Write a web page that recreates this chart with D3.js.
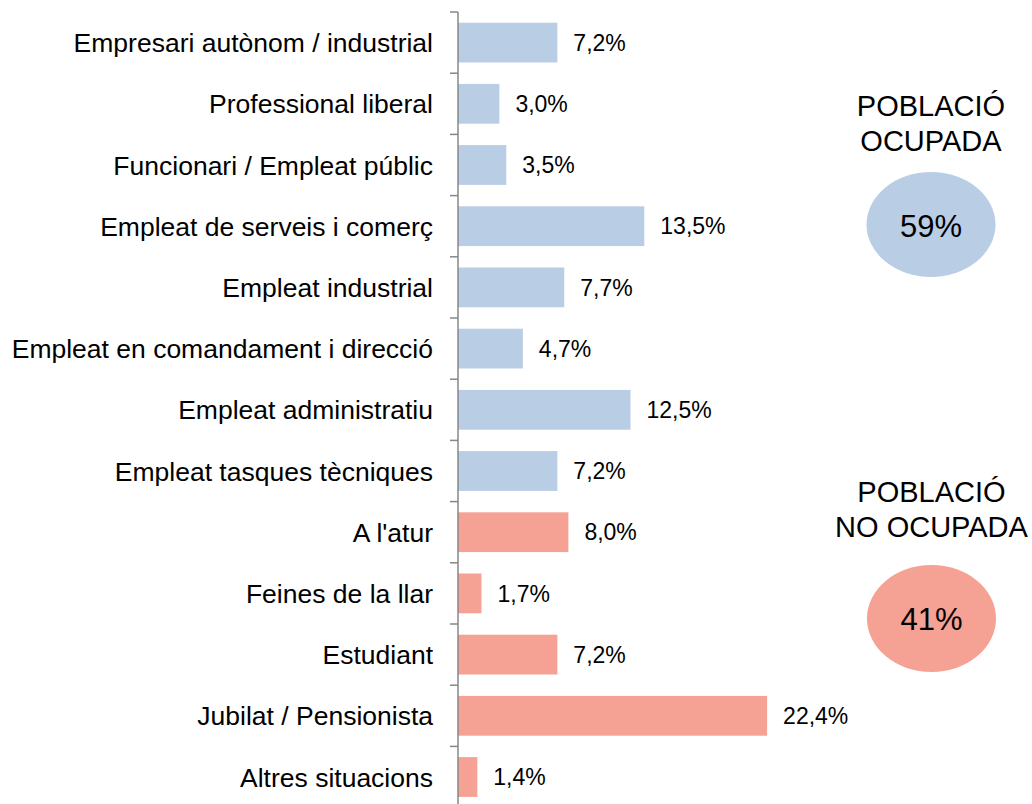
<!DOCTYPE html>
<html>
<head>
<meta charset="utf-8">
<script src="https://cdn.jsdelivr.net/npm/d3@7"></script>
<style>
  html, body { margin: 0; padding: 0; background: #fff; }
  svg { display: block; font-family: "Liberation Sans", Arial, sans-serif; }
</style>
</head>
<body>
<svg id="chart" width="1032" height="804"></svg>
<script>
const categories = [
  "Empresari autònom / industrial",
  "Professional liberal",
  "Funcionari / Empleat públic",
  "Empleat de serveis i comerç",
  "Empleat industrial",
  "Empleat en comandament i direcció",
  "Empleat administratiu",
  "Empleat tasques tècniques",
  "A l'atur",
  "Feines de la llar",
  "Estudiant",
  "Jubilat / Pensionista",
  "Altres situacions"
];
const values = [7.2, 3.0, 3.5, 13.5, 7.7, 4.7, 12.5, 7.2, 8.0, 1.7, 7.2, 22.4, 1.4];
const groups = ["ocupada","ocupada","ocupada","ocupada","ocupada","ocupada","ocupada","ocupada",
                "no","no","no","no","no"];
const groupKeys = ["ocupada", "no"];
const groupTitles = [["POBLACIÓ", "OCUPADA"], ["POBLACIÓ", "NO OCUPADA"]];
const groupTotals = ["59%", "41%"];
const groupColors = ["#B9CDE5", "#F5A193"];

const svg = d3.select("#chart");
const axisX = 458;
const x = d3.scaleLinear().domain([0, 25]).range([axisX, axisX + 25 * 13.8]);
const y = d3.scaleBand().domain(categories).range([12, 12 + 13 * 61.2]).paddingInner(0.35).paddingOuter(0.175);
const color = d3.scaleOrdinal().domain(groupKeys).range(groupColors);
const fmt = v => d3.format(".1f")(v).replace(".", ",") + "%";

const data = categories.map((c, i) => ({ cat: c, v: values[i], g: groups[i] }));

// bars
svg.append("g").selectAll("rect").data(data).join("rect")
  .attr("x", x(0))
  .attr("y", d => y(d.cat))
  .attr("width", d => x(d.v) - x(0))
  .attr("height", y.bandwidth())
  .attr("fill", d => color(d.g));

// value labels
svg.append("g").selectAll("text").data(data).join("text")
  .attr("x", d => x(d.v) + 16)
  .attr("y", d => y(d.cat) + y.bandwidth() / 2)
  .attr("dy", "0.36em")
  .attr("font-size", 23)
  .attr("fill", "#000")
  .text(d => fmt(d.v));

// axis
const step = y.step();
const boundaries = d3.range(categories.length + 1).map(i => 12 + i * step);
const ax = svg.append("g");
ax.append("line")
  .attr("x1", axisX).attr("x2", axisX)
  .attr("y1", 12).attr("y2", 12 + categories.length * step)
  .attr("stroke", "#878787").attr("stroke-width", 1.5);
ax.selectAll("line.tick").data(boundaries).join("line")
  .attr("class", "tick")
  .attr("x1", axisX - 8).attr("x2", axisX)
  .attr("y1", d => d).attr("y2", d => d)
  .attr("stroke", "#878787").attr("stroke-width", 1.5);
ax.selectAll("text").data(categories).join("text")
  .attr("x", axisX - 25)
  .attr("y", d => y(d) + y.bandwidth() / 2)
  .attr("dy", "0.36em")
  .attr("text-anchor", "end")
  .attr("font-size", 26.5)
  .attr("fill", "#000")
  .text(d => d);

// group summaries
const summaryPos = [
  { cx: 931, titleY: 116, ey: 224.5, ry: 52.5, valY: 237 },
  { cx: 931.5, titleY: 502, ey: 618.5, ry: 53.5, valY: 630 }
];
groupKeys.forEach((k, i) => {
  const p = summaryPos[i];
  const g = svg.append("g");
  g.selectAll("text.t").data(groupTitles[i]).join("text")
    .attr("class", "t")
    .attr("x", p.cx)
    .attr("y", (d, j) => p.titleY + j * 35)
    .attr("text-anchor", "middle")
    .attr("font-size", 29)
    .attr("fill", "#000")
    .text(d => d);
  g.append("ellipse")
    .attr("cx", p.cx).attr("cy", p.ey)
    .attr("rx", 64.5).attr("ry", p.ry)
    .attr("fill", groupColors[i]);
  g.append("text")
    .attr("x", p.cx).attr("y", p.valY)
    .attr("text-anchor", "middle")
    .attr("font-size", 31)
    .attr("fill", "#000")
    .text(groupTotals[i]);
});
</script>
</body>
</html>
